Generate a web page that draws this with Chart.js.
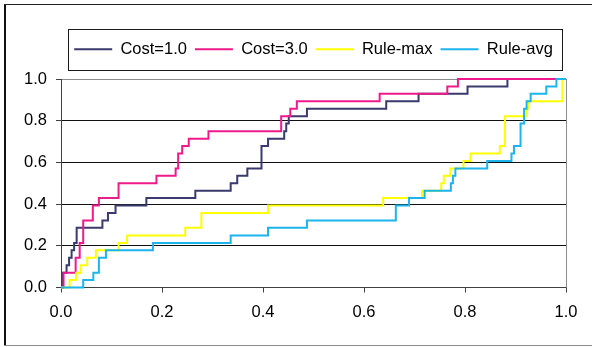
<!DOCTYPE html>
<html>
<head>
<meta charset="utf-8">
<script src="https://cdn.jsdelivr.net/npm/chart.js@4.4.1/dist/chart.umd.min.js"></script>
<style>
  html, body { margin: 0; padding: 0; background: #ffffff; }
  #wrap { width: 592px; height: 347px; position: relative; }
</style>
</head>
<body>
<div id="wrap"><canvas id="roc" width="592" height="347"></canvas></div>
<script>
// ROC curves: false positive rate (x) against true positive rate (y)
const seriesNames = ['Cost=1.0', 'Cost=3.0', 'Rule-max', 'Rule-avg'];
const seriesColors = ['#3a3a6e', '#ee1a8c', '#ffff00', '#1cb4ec'];

const cost1FPR = [0, 0.004, 0.011, 0.016, 0.021, 0.026, 0.031, 0.082, 0.093, 0.108, 0.169, 0.266, 0.336, 0.349, 0.369, 0.397, 0.410, 0.442, 0.446, 0.451, 0.487, 0.644, 0.708, 0.805, 0.884, 1.0];
const cost1TPR = [0, 0.071, 0.107, 0.143, 0.179, 0.214, 0.286, 0.321, 0.357, 0.393, 0.429, 0.464, 0.500, 0.536, 0.571, 0.679, 0.714, 0.750, 0.786, 0.821, 0.857, 0.893, 0.929, 0.964, 1.0, 1.0];

const cost3FPR = [0, 0.005, 0.029, 0.037, 0.044, 0.063, 0.075, 0.114, 0.189, 0.227, 0.232, 0.240, 0.253, 0.292, 0.436, 0.454, 0.467, 0.631, 0.765, 0.786, 1.0];
const cost3TPR = [0, 0.071, 0.143, 0.214, 0.321, 0.393, 0.429, 0.500, 0.536, 0.571, 0.643, 0.679, 0.714, 0.750, 0.821, 0.857, 0.893, 0.929, 0.964, 1.0, 1.0];

const ruleMaxFPR = [0, 0.017, 0.030, 0.039, 0.052, 0.069, 0.114, 0.131, 0.246, 0.278, 0.410, 0.638, 0.715, 0.753, 0.758, 0.771, 0.797, 0.811, 0.869, 0.879, 0.922, 0.926, 0.993, 1.0];
const ruleMaxTPR = [0, 0.036, 0.071, 0.107, 0.143, 0.179, 0.214, 0.250, 0.286, 0.357, 0.393, 0.429, 0.464, 0.500, 0.536, 0.571, 0.607, 0.643, 0.679, 0.821, 0.857, 0.893, 1.0, 1.0];

const ruleAvgFPR = [0, 0.044, 0.064, 0.075, 0.089, 0.182, 0.336, 0.410, 0.487, 0.663, 0.689, 0.720, 0.772, 0.776, 0.781, 0.844, 0.892, 0.897, 0.910, 0.917, 0.922, 0.930, 0.961, 0.981, 1.0];
const ruleAvgTPR = [0, 0.036, 0.071, 0.143, 0.179, 0.214, 0.250, 0.286, 0.321, 0.393, 0.429, 0.464, 0.500, 0.536, 0.571, 0.607, 0.643, 0.679, 0.786, 0.857, 0.893, 0.929, 0.964, 1.0, 1.0];

const xTicks = [0, 0.2, 0.4, 0.6, 0.8, 1.0];
const yTicks = [0, 0.2, 0.4, 0.6, 0.8, 1.0];

const FONT = "'Liberation Sans', Arial, sans-serif";
const toPoints = (xs, ys) => xs.map((x, i) => ({ x: x, y: ys[i] }));
const curves = [
  toPoints(cost1FPR, cost1TPR),
  toPoints(cost3FPR, cost3TPR),
  toPoints(ruleMaxFPR, ruleMaxTPR),
  toPoints(ruleAvgFPR, ruleAvgTPR)
];

// later series are painted over earlier ones
const datasets = curves.map((pts, i) => ({
  label: seriesNames[i],
  data: pts,
  borderColor: seriesColors[i],
  backgroundColor: seriesColors[i],
  borderWidth: 2,
  pointRadius: 0,
  pointHoverRadius: 0,
  fill: false,
  clip: false,
  stepped: 'before',
  order: curves.length - i
}));

// frame around the whole chart, the plot area's right edge and the legend box
const framePlugin = {
  id: 'frames',
  beforeDatasetsDraw(chart) {
    const { ctx, chartArea: a } = chart;
    ctx.save();
    ctx.strokeStyle = '#8c8c8c';
    ctx.lineWidth = 1;
    ctx.beginPath();
    ctx.moveTo(Math.round(a.right) + 0.5, a.top);
    ctx.lineTo(Math.round(a.right) + 0.5, a.bottom);
    ctx.stroke();
    ctx.restore();
  },
  afterDraw(chart) {
    const { ctx } = chart;
    const boxes = chart.legend.legendHitBoxes;
    ctx.save();
    if (boxes && boxes.length) {
      const left = Math.min(...boxes.map(b => b.left)) - 6;
      const right = Math.max(...boxes.map(b => b.left + b.width)) + 9;
      const top = Math.min(...boxes.map(b => b.top)) - 12;
      const bottom = Math.max(...boxes.map(b => b.top + b.height)) + 12;
      ctx.strokeStyle = '#1a1a1a';
      ctx.lineWidth = 1;
      ctx.strokeRect(Math.round(left) + 0.5, Math.round(top) + 0.5, Math.round(right - left), Math.round(bottom - top));
    }
    // outer chart border
    ctx.fillStyle = '#111111';
    ctx.fillRect(4, 4, 2, 342);
    ctx.fillStyle = '#222222';
    ctx.fillRect(4, 4, 588, 1);
    ctx.fillStyle = '#8a8a8a';
    ctx.fillRect(4, 345, 588, 1);
    ctx.restore();
  }
};

new Chart(document.getElementById('roc'), {
  type: 'line',
  data: { datasets: datasets },
  plugins: [framePlugin],
  options: {
    responsive: false,
    animation: false,
    devicePixelRatio: 1,
    events: [],
    layout: { padding: { left: 5, right: 26, top: 33, bottom: 5 } },
    plugins: {
      tooltip: { enabled: false },
      // empty spacer between the legend and the plot area
      title: {
        display: true,
        text: '',
        weight: 500,
        position: 'top',
        font: { size: 1, lineHeight: 1 },
        padding: { top: 0, bottom: 10.5 }
      },
      legend: {
        position: 'top',
        fullSize: false,
        labels: {
          usePointStyle: true,
          pointStyle: 'line',
          pointStyleWidth: 38,
          padding: 8,
          color: '#000000',
          font: { family: FONT, size: 16.5 },
          sort: (a, b) => a.datasetIndex - b.datasetIndex
        }
      }
    },
    scales: {
      x: {
        type: 'linear',
        min: 0,
        max: 1,
        afterBuildTicks: s => { s.ticks = xTicks.map(v => ({ value: v })); },
        afterFit: s => { s.height = 54.5; },
        grid: { drawOnChartArea: false, drawTicks: true, tickLength: 5, tickColor: '#404040' },
        border: { display: true, color: '#404040', width: 1 },
        ticks: {
          color: '#000000',
          padding: 10,
          maxRotation: 0,
          font: { family: FONT, size: 16.5 },
          callback: v => Number(v).toFixed(1)
        }
      },
      y: {
        type: 'linear',
        min: 0,
        max: 1,
        afterBuildTicks: s => { s.ticks = yTicks.map(v => ({ value: v })); },
        afterFit: s => { s.width = 56; },
        grid: {
          drawTicks: true,
          tickLength: 5,
          tickColor: '#404040',
          color: c => (c.tick && c.tick.value === 1 ? '#8c8c8c' : '#111111'),
          lineWidth: 1
        },
        border: { display: true, color: '#404040', width: 1 },
        ticks: {
          color: '#000000',
          padding: 9,
          font: { family: FONT, size: 16.5 },
          callback: v => Number(v).toFixed(1)
        }
      }
    }
  }
});
</script>
</body>
</html>
